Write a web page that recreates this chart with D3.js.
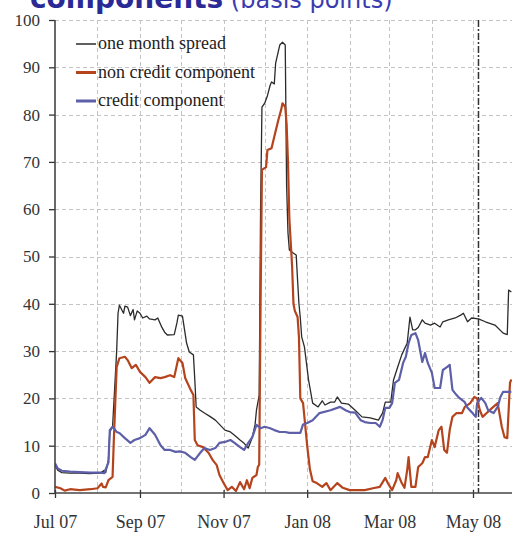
<!DOCTYPE html>
<html><head><meta charset="utf-8">
<script src="https://cdn.jsdelivr.net/npm/d3@7"></script>
<style>body{margin:0;background:#fff} text.sf{font-family:"Liberation Serif",serif;}</style>
</head><body><svg id="c" width="512" height="533"></svg>
<script>
const spread = [["2007-07-01",5.9],["2007-07-03",4.8],["2007-07-06",4.3],["2007-07-12",4.2],["2007-07-19",4.2],["2007-07-26",4.1],["2007-08-03",4.2],["2007-08-06",4.8],["2007-08-07",4.3],["2007-08-09",7],["2007-08-10",12.9],["2007-08-12",14],["2007-08-15",30],["2007-08-16",38],["2007-08-17",39.7],["2007-08-20",38],["2007-08-21",39.5],["2007-08-23",39.3],["2007-08-25",37.5],["2007-08-27",38.8],["2007-08-28",36.6],["2007-08-30",38.5],["2007-09-01",38],["2007-09-03",37],["2007-09-06",37.4],["2007-09-08",36.8],["2007-09-12",36.6],["2007-09-14",37],["2007-09-17",35],["2007-09-19",34],["2007-09-21",33.4],["2007-09-26",33.5],["2007-09-28",36],["2007-09-29",37.6],["2007-10-02",37.4],["2007-10-05",31.7],["2007-10-07",29.8],["2007-10-10",29.2],["2007-10-11",24],["2007-10-12",18.2],["2007-10-15",17.5],["2007-10-18",16.9],["2007-10-22",16.2],["2007-10-26",15.4],["2007-10-29",14.5],["2007-11-02",13.3],["2007-11-06",12.9],["2007-11-09",12.2],["2007-11-13",11.2],["2007-11-16",10.5],["2007-11-19",9.5],["2007-11-22",11.8],["2007-11-24",14.5],["2007-11-25",17.5],["2007-11-27",20.7],["2007-11-28",60],["2007-11-29",81.6],["2007-12-01",82.4],["2007-12-03",84],["2007-12-05",86.2],["2007-12-06",86.9],["2007-12-08",86.5],["2007-12-09",90.9],["2007-12-12",94.7],["2007-12-14",95.3],["2007-12-16",94.7],["2007-12-17",65],["2007-12-18",55],["2007-12-19",51.4],["2007-12-22",50.7],["2007-12-24",50.3],["2007-12-25",45],["2007-12-26",40],["2007-12-27",37],["2007-12-28",33],["2007-12-30",30.9],["2008-01-02",23.9],["2008-01-05",19],["2008-01-09",18.2],["2008-01-12",19.5],["2008-01-14",18.6],["2008-01-18",19.2],["2008-01-21",19.2],["2008-01-23",20.3],["2008-01-26",19],["2008-01-31",18.8],["2008-02-05",17.5],["2008-02-10",16.1],["2008-02-16",15.9],["2008-02-22",15.4],["2008-02-25",16.9],["2008-02-27",19.2],["2008-03-02",19.2],["2008-03-04",23.9],["2008-03-07",26.6],["2008-03-10",29.2],["2008-03-14",31.7],["2008-03-16",37.2],["2008-03-18",34.5],["2008-03-20",34.5],["2008-03-22",35],["2008-03-25",36.6],["2008-03-27",35.9],["2008-03-31",35.5],["2008-04-03",35.9],["2008-04-07",35.1],["2008-04-09",36.2],["2008-04-13",36.6],["2008-04-18",37],["2008-04-22",37.6],["2008-04-24",38],["2008-04-27",36.2],["2008-04-30",37],["2008-05-05",36.8],["2008-05-10",36.2],["2008-05-17",35.5],["2008-05-23",33.8],["2008-05-26",33.5],["2008-05-27",42.9],["2008-05-29",42.5]];

const nonCredit = [["2007-07-01",1.3],["2007-07-05",1.0],["2007-07-08",0.5],["2007-07-12",0.8],["2007-07-19",0.6],["2007-07-27",0.8],["2007-08-01",1.0],["2007-08-04",2],["2007-08-05",1.3],["2007-08-07",1.2],["2007-08-09",2.7],["2007-08-12",3.4],["2007-08-13",11.8],["2007-08-15",26.6],["2007-08-17",28.5],["2007-08-21",28.8],["2007-08-23",28.1],["2007-08-26",26.4],["2007-08-29",27.1],["2007-09-01",25.6],["2007-09-05",24.5],["2007-09-08",23.3],["2007-09-12",24.5],["2007-09-16",24.3],["2007-09-19",24.5],["2007-09-23",24.9],["2007-09-26",24.5],["2007-09-29",28.5],["2007-10-02",27.5],["2007-10-04",24.3],["2007-10-08",21.8],["2007-10-10",20.7],["2007-10-11",11.2],["2007-10-13",10.1],["2007-10-17",9.7],["2007-10-21",8.5],["2007-10-24",7],["2007-10-27",5.9],["2007-10-29",3.8],["2007-11-01",2.1],["2007-11-04",0.6],["2007-11-07",1.3],["2007-11-10",0.4],["2007-11-13",2.3],["2007-11-16",0.8],["2007-11-18",2.7],["2007-11-20",1.0],["2007-11-22",3.2],["2007-11-25",3.8],["2007-11-26",5.5],["2007-11-27",6],["2007-11-28",40],["2007-11-29",68.3],["2007-12-02",68.9],["2007-12-03",72.5],["2007-12-06",72.9],["2007-12-08",75.3],["2007-12-11",78.9],["2007-12-13",81],["2007-12-14",82.4],["2007-12-16",81.6],["2007-12-17",78],["2007-12-18",70],["2007-12-19",58],["2007-12-21",48],["2007-12-22",40],["2007-12-23",38.5],["2007-12-25",37.2],["2007-12-26",33],["2007-12-27",20],["2007-12-29",19],["2008-01-01",10],["2008-01-03",5],["2008-01-05",2.5],["2008-01-08",2.1],["2008-01-12",1.3],["2008-01-15",2.1],["2008-01-18",0.6],["2008-01-23",2.1],["2008-01-27",1.1],["2008-02-01",0.6],["2008-02-06",0.6],["2008-02-12",0.6],["2008-02-18",1],["2008-02-23",1.3],["2008-02-27",3.2],["2008-02-29",2],["2008-03-03",0.6],["2008-03-06",2.7],["2008-03-07",4.2],["2008-03-10",2.1],["2008-03-12",1.1],["2008-03-14",4.9],["2008-03-15",7.6],["2008-03-17",1.3],["2008-03-20",1.3],["2008-03-22",5.5],["2008-03-25",6.3],["2008-03-27",7.6],["2008-03-29",7.6],["2008-04-01",11.2],["2008-04-03",9.7],["2008-04-06",13.3],["2008-04-08",14],["2008-04-10",9.1],["2008-04-12",8.5],["2008-04-14",13.3],["2008-04-16",16.1],["2008-04-19",16.9],["2008-04-23",16.9],["2008-04-25",18.2],["2008-04-29",19],["2008-05-02",20.3],["2008-05-04",20],["2008-05-06",17.5],["2008-05-08",16.1],["2008-05-11",16.9],["2008-05-15",18],["2008-05-19",19],["2008-05-22",14],["2008-05-24",11.8],["2008-05-26",11.6],["2008-05-28",23.3],["2008-05-29",24]];

const credit = [["2007-07-01",6.3],["2007-07-03",5.2],["2007-07-06",4.7],["2007-07-12",4.5],["2007-07-19",4.4],["2007-07-27",4.3],["2007-08-03",4.3],["2007-08-06",4.2],["2007-08-09",6.5],["2007-08-10",13.3],["2007-08-12",14],["2007-08-15",12.9],["2007-08-17",12.7],["2007-08-21",11.6],["2007-08-25",10.6],["2007-08-28",11.2],["2007-09-01",11.6],["2007-09-05",12.3],["2007-09-08",13.7],["2007-09-12",12.3],["2007-09-16",10.1],["2007-09-19",9.1],["2007-09-23",9.1],["2007-09-27",8.7],["2007-09-30",8.8],["2007-10-04",8.5],["2007-10-08",7.6],["2007-10-11",7],["2007-10-15",8.5],["2007-10-18",9.5],["2007-10-22",9.1],["2007-10-26",9.5],["2007-10-29",10.6],["2007-11-02",10.8],["2007-11-06",11.2],["2007-11-09",10.6],["2007-11-13",9.7],["2007-11-16",9.1],["2007-11-19",10.6],["2007-11-22",11.8],["2007-11-25",14.4],["2007-11-28",13.7],["2007-12-01",14],["2007-12-05",13.7],["2007-12-08",13.3],["2007-12-12",12.9],["2007-12-16",12.9],["2007-12-19",12.7],["2007-12-23",12.7],["2007-12-27",12.7],["2007-12-29",14.5],["2008-01-01",14.8],["2008-01-05",15.4],["2008-01-10",16.9],["2008-01-18",17.5],["2008-01-25",18.2],["2008-01-29",17.5],["2008-02-01",17.1],["2008-02-05",17],["2008-02-09",15.4],["2008-02-12",15],["2008-02-16",14.8],["2008-02-20",14.8],["2008-02-23",14],["2008-02-25",15.4],["2008-02-27",18],["2008-03-01",18],["2008-03-03",19],["2008-03-05",23.3],["2008-03-08",23.9],["2008-03-11",27.5],["2008-03-13",28.8],["2008-03-15",31.7],["2008-03-17",33.4],["2008-03-20",33.8],["2008-03-22",32.3],["2008-03-25",27.7],["2008-03-27",29.6],["2008-03-29",27.5],["2008-04-01",25.4],["2008-04-03",22.2],["2008-04-07",22.2],["2008-04-09",26],["2008-04-12",26.6],["2008-04-14",27.1],["2008-04-16",21.8],["2008-04-19",20.7],["2008-04-21",20.1],["2008-04-25",19.2],["2008-04-27",18],["2008-04-30",17.1],["2008-05-03",16.1],["2008-05-04",19],["2008-05-07",20.1],["2008-05-10",19],["2008-05-12",17.5],["2008-05-16",16.9],["2008-05-19",18.2],["2008-05-21",20.3],["2008-05-23",21.4],["2008-05-26",21.4],["2008-05-29",21.4]];

const yTicks = [0,10,20,30,40,50,60,70,80,90,100];
const xTickDates = ["2007-07-01","2007-09-01","2007-11-01","2008-01-01","2008-03-01","2008-05-01"];
const xTickLabels = ["Jul 07","Sep 07","Nov 07","Jan 08","Mar 08","May 08"];
const legendLabels = ["one month spread","non credit component","credit component"];
const markerDate = "2008-05-05";
const titleParts = ["components","(basis points)"];

const parse = d3.utcParse("%Y-%m-%d");
const svg = d3.select("#c");
const L = 55, R = 512, T = 20, B = 493;
const x = d3.scaleUtc().domain([parse("2007-07-01"), parse("2008-05-01")]).range([L, 473]);
const y = d3.scaleLinear().domain([0, 100]).range([B, T]);

// title (cut off at top, as in the source)
const title = svg.append("text").attr("x", 30).attr("y", 8)
  .style("font-family", "'DejaVu Sans', Verdana, sans-serif");
title.append("tspan").text(titleParts[0]).style("fill", "#2a2a96")
  .style("font-weight", "bold").style("font-size", "28px");
title.append("tspan").text(" " + titleParts[1]).style("fill", "#3b3bb0")
  .style("font-size", "24px");

// grid
const grid = svg.append("g").attr("stroke", "#c4c4c4").attr("stroke-width", 1).attr("stroke-dasharray", "4,3");
grid.selectAll(".h").data(yTicks.filter(v => v > 0)).join("line")
  .attr("x1", L).attr("x2", R).attr("y1", d => Math.round(y(d)) + 0.5).attr("y2", d => Math.round(y(d)) + 0.5);
const months = d3.utcMonth.range(parse("2007-08-01"), parse("2008-06-01"));
grid.selectAll(".v").data(months).join("line")
  .attr("x1", d => Math.round(x(d)) + 0.5).attr("x2", d => Math.round(x(d)) + 0.5).attr("y1", T).attr("y2", B);

// marker
svg.append("line").attr("x1", x(parse(markerDate))).attr("x2", x(parse(markerDate)))
  .attr("y1", T).attr("y2", B).attr("stroke", "#333").attr("stroke-width", 1.5).attr("stroke-dasharray", "7,2,2,2");

// lines
svg.append("clipPath").attr("id", "clip").append("rect").attr("x", L).attr("y", 0).attr("width", R - L).attr("height", B + 2);
const line = d3.line().x(d => x(parse(d[0]))).y(d => y(d[1]));
const plot = svg.append("g").attr("clip-path", "url(#clip)").attr("fill", "none").attr("stroke-linejoin", "round");
const series = [
  {data: spread, color: "#2b2b2b", w: 1.3},
  {data: nonCredit, color: "#b5441d", w: 2.2},
  {data: credit, color: "#5d5fa8", w: 2.2}
];
series.forEach(s => plot.append("path").attr("d", line(s.data)).attr("stroke", s.color).attr("stroke-width", s.w));

// axes
const yAxis = svg.append("g").attr("transform", `translate(${L},0)`)
  .call(d3.axisLeft(y).tickValues(yTicks).tickSize(6).tickSizeOuter(0).tickPadding(9));
yAxis.attr("font-family", null).attr("font-size", null);
yAxis.select(".domain").remove();
yAxis.selectAll("line").attr("stroke", "#333").attr("stroke-width", 1.3);
yAxis.selectAll("text").classed("sf", true).style("font-size", "17px").style("fill", "#333");
svg.append("line").attr("x1", L).attr("x2", L).attr("y1", T).attr("y2", B).attr("stroke", "#444").attr("stroke-width", 1.6);

const xAxis = svg.append("g").attr("transform", `translate(0,${B})`)
  .call(d3.axisBottom(x).tickValues(xTickDates.map(parse)).tickFormat((d, i) => xTickLabels[i]).tickSize(5).tickSizeOuter(0).tickPadding(17));
xAxis.attr("font-family", null).attr("font-size", null);
xAxis.select(".domain").remove();
xAxis.selectAll("line").attr("y1", -3).attr("stroke", "#333").attr("stroke-width", 1.3);
xAxis.selectAll("text").classed("sf", true).style("font-size", "18px").style("fill", "#333");
svg.append("line").attr("x1", L).attr("x2", R).attr("y1", B).attr("y2", B).attr("stroke", "#444").attr("stroke-width", 1.6);

// legend
const leg = svg.append("g");
legendLabels.forEach((lab, i) => {
  const yy = 44 + i * 28.5;
  leg.append("line").attr("x1", 76).attr("x2", 96).attr("y1", yy).attr("y2", yy)
    .attr("stroke", series[i].color).attr("stroke-width", i === 0 ? 1.5 : 3);
  leg.append("text").attr("class", "sf").attr("x", 98).attr("y", yy + 5).text(lab)
    .style("font-size", "18px").style("fill", "#222");
});
</script></body></html>
